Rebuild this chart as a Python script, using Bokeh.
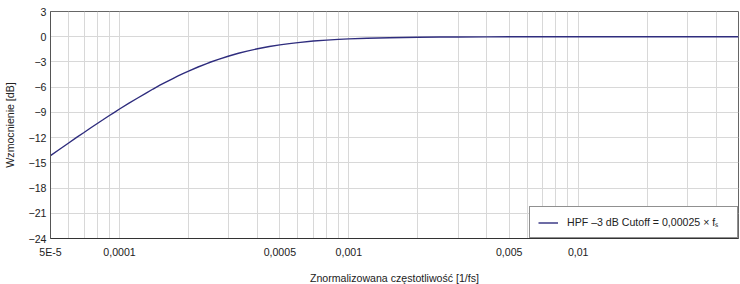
from bokeh.plotting import figure
from bokeh.models import (Range1d, FixedTicker, CustomJSTickFormatter, Legend, LegendItem,
                          ColumnDataSource)
from bokeh.embed import file_html
from bokeh.resources import INLINE

# ---- data ----
freq = [5e-5, 5.5e-5, 6e-5, 6.5e-5, 7e-5, 7.5e-5, 8e-5, 8.5e-5, 9e-5, 9.5e-5,
        1e-4, 1.1e-4, 1.2e-4, 1.3e-4, 1.4e-4, 1.5e-4, 1.6e-4, 1.7e-4, 1.8e-4, 1.9e-4,
        2e-4, 2.2e-4, 2.4e-4, 2.5e-4, 2.7e-4, 3e-4, 3.3e-4, 3.6e-4, 4e-4, 4.5e-4,
        5e-4, 5.5e-4, 6e-4, 7e-4, 8e-4, 9e-4, 1e-3, 1.2e-3, 1.5e-3, 2e-3,
        2.5e-3, 3e-3, 4e-3, 5e-3, 7e-3, 1e-2, 2e-2, 5e-2]
gain_db = [-14.15, -13.36, -12.64, -11.98, -11.39, -10.83, -10.32, -9.85, -9.40, -8.99,
           -8.60, -7.90, -7.29, -6.73, -6.22, -5.77, -5.37, -5.00, -4.67, -4.36,
           -4.09, -3.60, -3.19, -3.01, -2.69, -2.29, -1.97, -1.71, -1.43, -1.17,
           -0.97, -0.82, -0.70, -0.51, -0.40, -0.32, -0.26, -0.18, -0.12, -0.07,
           -0.04, -0.03, -0.02, -0.01, -0.005, 0.0, 0.0, 0.0]

series_label = "HPF \u20133 dB Cutoff = 0,00025 \u00d7 f\u209b"

x_tick_values = [5e-5, 1e-4, 5e-4, 1e-3, 5e-3, 1e-2]
x_tick_labels = ["5E-5", "0,0001", "0,0005", "0,001", "0,005", "0,01"]
x_grid_values = [5e-5, 6e-5, 7e-5, 8e-5, 9e-5,
                 1e-4, 2e-4, 3e-4, 4e-4, 5e-4, 6e-4, 7e-4, 8e-4, 9e-4,
                 1e-3, 2e-3, 3e-3, 4e-3, 5e-3, 6e-3, 7e-3, 8e-3, 9e-3,
                 1e-2, 2e-2, 3e-2, 4e-2, 5e-2]

y_tick_values = [3, 0, -3, -6, -9, -12, -15, -18, -21, -24]
y_tick_labels = ["3", "0", "\u22123", "\u22126", "\u22129", "\u221212", "\u221215",
                 "\u221218", "\u221221", "\u221224"]

x_title = "Znormalizowana cz\u0119stotliwo\u015b\u0107 [1/fs]"
y_title = "Wzmocnienie [dB]"

FONT = "Liberation Sans"
FS = "10.6px"
GRID = "#d8d8d8"
LINE = "#2f2d7e"

p = figure(width=740, height=284, frame_width=688, frame_height=227,
           x_axis_type="log", output_backend="svg", toolbar_location=None,
           x_range=Range1d(5e-5, 0.05), y_range=Range1d(-24, 3),
           min_border_left=48, min_border_right=4, min_border_top=11, min_border_bottom=46)

p.outline_line_color = "#666666"
p.outline_line_width = 1
p.background_fill_color = "white"
p.border_fill_color = "white"

src = ColumnDataSource(dict(x=freq, y=gain_db))
r = p.line("x", "y", source=src, line_color=LINE, line_width=1.4)

# x axis
p.xaxis.ticker = FixedTicker(ticks=x_tick_values, minor_ticks=x_grid_values)
p.xaxis.formatter = CustomJSTickFormatter(args=dict(vals=x_tick_values, labs=x_tick_labels), code="""
for (let i = 0; i < vals.length; i++) {
  if (Math.abs(tick - vals[i]) / vals[i] < 1e-6) return labs[i];
}
return "";
""")
p.yaxis.ticker = FixedTicker(ticks=y_tick_values)
p.yaxis.formatter = CustomJSTickFormatter(args=dict(vals=y_tick_values, labs=y_tick_labels), code="""
for (let i = 0; i < vals.length; i++) {
  if (Math.abs(tick - vals[i]) < 1e-6) return labs[i];
}
return "";
""")

for ax in (p.xaxis[0], p.yaxis[0]):
    ax.major_tick_line_color = None
    ax.minor_tick_line_color = None
    ax.major_tick_out = 0
    ax.major_tick_in = 0
    ax.minor_tick_out = 0
    ax.minor_tick_in = 0
    ax.major_label_text_font = FONT
    ax.major_label_text_font_size = FS
    ax.major_label_text_color = "#222222"
    ax.axis_label_text_font = FONT
    ax.axis_label_text_font_size = FS
    ax.axis_label_text_font_style = "normal"
    ax.axis_label_text_color = "#222222"

p.xaxis.axis_line_color = "#333333"
p.yaxis.axis_line_color = "#555555"
p.xaxis.axis_label = x_title
p.yaxis.axis_label = y_title
p.xaxis.major_label_standoff = 7
p.xaxis.axis_label_standoff = 11
p.yaxis.major_label_standoff = 4
p.yaxis.axis_label_standoff = 10

p.xgrid.grid_line_color = GRID
p.xgrid.minor_grid_line_color = GRID
p.xgrid.ticker = FixedTicker(ticks=x_grid_values)
p.ygrid.grid_line_color = GRID
p.ygrid.ticker = FixedTicker(ticks=y_tick_values)

legend = Legend(items=[LegendItem(label=series_label, renderers=[r])],
                location="bottom_right", margin=0, padding=8, spacing=0,
                glyph_width=20, glyph_height=13, label_standoff=9,
                label_width=162, label_height=13,
                label_text_font=FONT, label_text_font_size=FS,
                label_text_color="#222222",
                border_line_color="#222222", border_line_width=1,
                background_fill_color="white", background_fill_alpha=1.0)
p.add_layout(legend)

open("out.html", "w").write(file_html(p, INLINE))
